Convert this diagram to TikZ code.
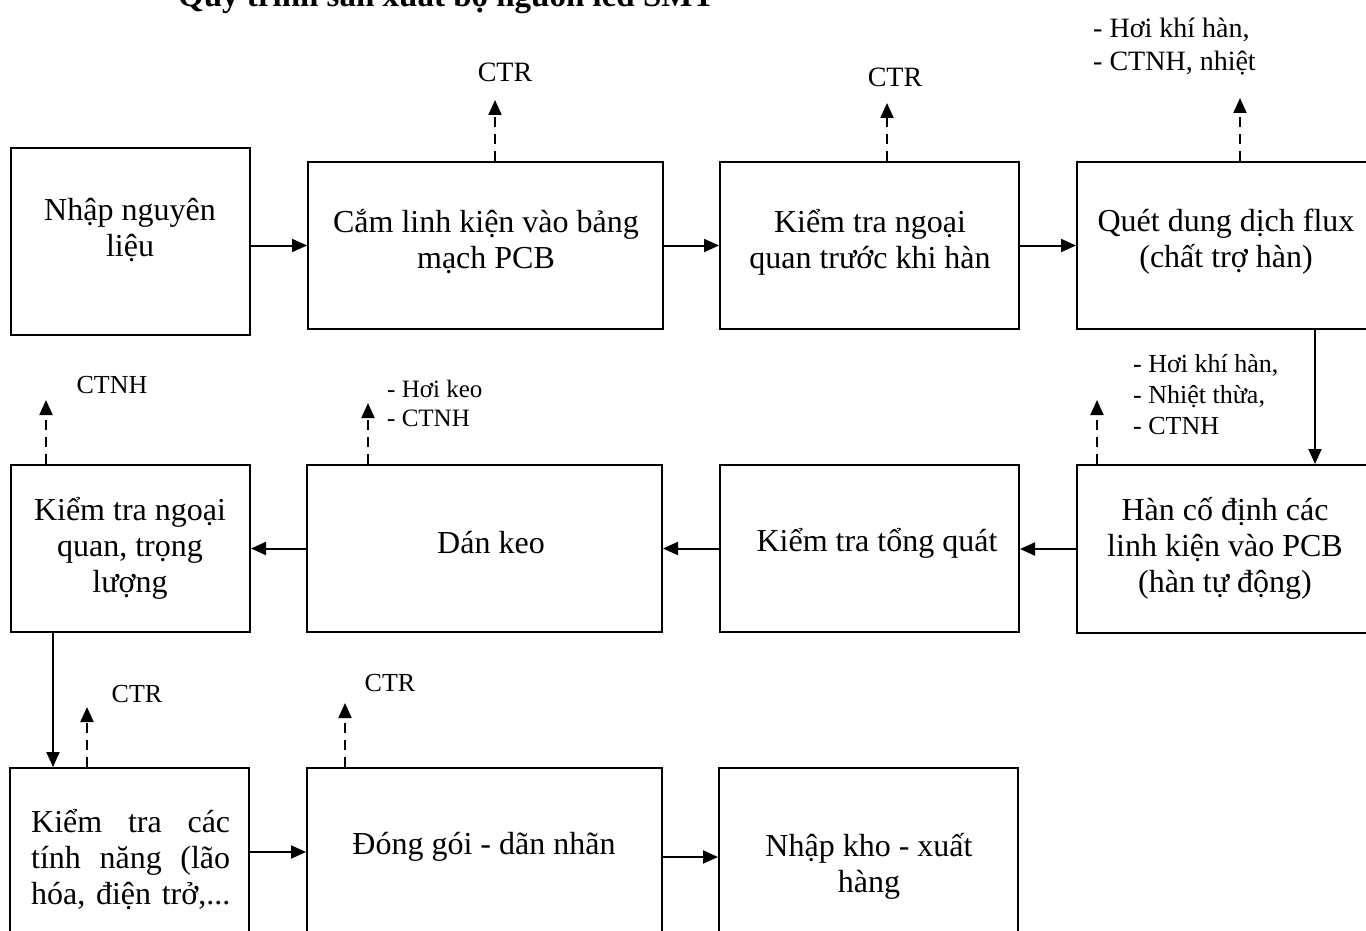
\documentclass[tikz,border=0pt]{standalone}
\usepackage{fontspec}
\setmainfont{Liberation Serif}
\newfontfamily\symfont{DejaVu Sans}
\usetikzlibrary{arrows.meta}
\tikzset{
  box/.style={draw, line width=2pt, rectangle, inner sep=0pt},
  boxtext/.style={align=center, inner sep=0pt, font=\fontsize{32}{36}\selectfont},
  lbl/.style={align=left, inner sep=0pt, font=\fontsize{26}{31}\selectfont},
  flow/.style={line width=2pt, -{Triangle[length=15pt,width=13pt]}},
  waste/.style={line width=2pt, dash pattern=on 10pt off 7pt, -{Triangle[length=15pt,width=13pt]}},
}
\begin{document}
\begin{tikzpicture}[x=1pt,y=-1pt]
\useasboundingbox (0,0) rectangle (1366,931);
\clip (0,0) rectangle (1366,931);
\fill[white] (0,0) rectangle (1366,931);

% title (cut off at top)
\node[anchor=base west, inner sep=0pt, font=\symfont\fontsize{33}{36}\selectfont] (chk) at (101,4) {✓};
\node[anchor=base west, inner sep=0pt, font=\bfseries\fontsize{33}{36}\selectfont] (title) at (178,7) {Quy trình sản xuất bộ nguồn led SMT};

% row 1 boxes
\node[box, minimum width=239pt, minimum height=187pt] (b1) at (130.5,241.5) {};
\node[box, minimum width=355pt, minimum height=167pt] (b2) at (485.5,245.5) {};
\node[box, minimum width=299pt, minimum height=167pt] (b3) at (869.5,245.5) {};
\node[box, minimum width=298pt, minimum height=167pt] (b4) at (1226,245.5) {};
% row 2 boxes
\node[box, minimum width=298pt, minimum height=168pt] (b5) at (1226,549) {};
\node[box, minimum width=299pt, minimum height=167pt] (b6) at (869.5,548.5) {};
\node[box, minimum width=355pt, minimum height=167pt] (b7) at (484.5,548.5) {};
\node[box, minimum width=239pt, minimum height=167pt] (b8) at (130.5,548.5) {};
% row 3 boxes (cut off at bottom)
\node[box, minimum width=239pt, minimum height=240pt] (b9) at (129.5,888) {};
\node[box, minimum width=355pt, minimum height=240pt] (b10) at (484.5,888) {};
\node[box, minimum width=299pt, minimum height=240pt] (b11) at (868.5,888) {};

% box texts
\node[boxtext] (t1) at (130,230) {Nhập nguyên\\liệu};
\node[boxtext] (t2) at (486,242) {Cắm linh kiện vào bảng\\mạch PCB};
\node[boxtext] (t3) at (870,242) {Kiểm tra ngoại\\quan trước khi hàn};
\node[boxtext] (t4) at (1226,242) {Quét dung dịch flux\\(chất trợ hàn)};
\node[boxtext] (t5) at (1225,548) {Hàn cố định các\\linh kiện vào PCB\\(hàn tự động)};
\node[boxtext] (t6) at (877,543) {Kiểm tra tổng quát};
\node[boxtext] (t7) at (491,543) {Dán keo};
\node[boxtext] (t8) at (130,548) {Kiểm tra ngoại\\quan, trọng\\lượng};
\node[boxtext, align=left, text width=199pt, anchor=west] (t9) at (31,860) {Kiểm\hfill tra\hfill các\\tính\hfill năng\hfill (lão\\\mbox{hóa, điện trở,...}};
\node[boxtext] (t10) at (484,847) {Đóng gói - dãn nhãn};
\node[boxtext] (t11) at (869,866) {Nhập kho - xuất\\hàng};

% main flow
\coordinate (v1) at (1315,0);
\coordinate (v2) at (53,0);
\coordinate (h1) at (0,852);
\coordinate (h2) at (0,857);
\draw[flow] (b1.east |- b2.west) -- (b2.west);
\draw[flow] (b2.east) -- (b3.west);
\draw[flow] (b3.east) -- (b4.west);
\draw[flow] (b4.south -| v1) -- (b5.north -| v1);
\draw[flow] (b5.west) -- (b6.east |- b5.west);
\draw[flow] (b6.west) -- (b7.east);
\draw[flow] (b7.west) -- (b8.east);
\draw[flow] (b8.south -| v2) -- (b9.north -| v2);
\draw[flow] (b9.east |- h1) -- (b10.west |- h1);
\draw[flow] (b10.east |- h2) -- (b11.west |- h2);

% waste outputs
\coordinate (w2) at (495,100);
\coordinate (w3) at (887,103);
\coordinate (w4) at (1240,98);
\coordinate (w5) at (1097,400);
\coordinate (w7) at (368,403);
\coordinate (w8) at (46,400);
\coordinate (w9) at (87,707);
\coordinate (w10) at (345,703);
\draw[waste] (b2.north -| w2) -- (w2);
\draw[waste] (b3.north -| w3) -- (w3);
\draw[waste] (b4.north -| w4) -- (w4);
\draw[waste] (b5.north -| w5) -- (w5);
\draw[waste] (b7.north -| w7) -- (w7);
\draw[waste] (b8.north -| w8) -- (w8);
\draw[waste] (b9.north -| w9) -- (w9);
\draw[waste] (b10.north -| w10) -- (w10);

% waste labels
\node[lbl, font=\fontsize{28}{33}\selectfont] (l2) at (505,72) {CTR};
\node[lbl, font=\fontsize{28}{33}\selectfont] (l3) at (895,77) {CTR};
\node[lbl, anchor=west, font=\fontsize{28}{33}\selectfont] (l4) at (1093,47) {- Hơi khí hàn,\\- CTNH, nhiệt};
\node[lbl, anchor=west] (l5) at (1133,395) {- Hơi khí hàn,\\- Nhiệt thừa,\\- CTNH};
\node[lbl, anchor=west, font=\fontsize{25}{29}\selectfont] (l7) at (387,403) {- Hơi keo\\- CTNH};
\node[lbl] (l8) at (112,385) {CTNH};
\node[lbl] (l9) at (137,694) {CTR};
\node[lbl] (l10) at (390,683) {CTR};
\end{tikzpicture}
\end{document}
